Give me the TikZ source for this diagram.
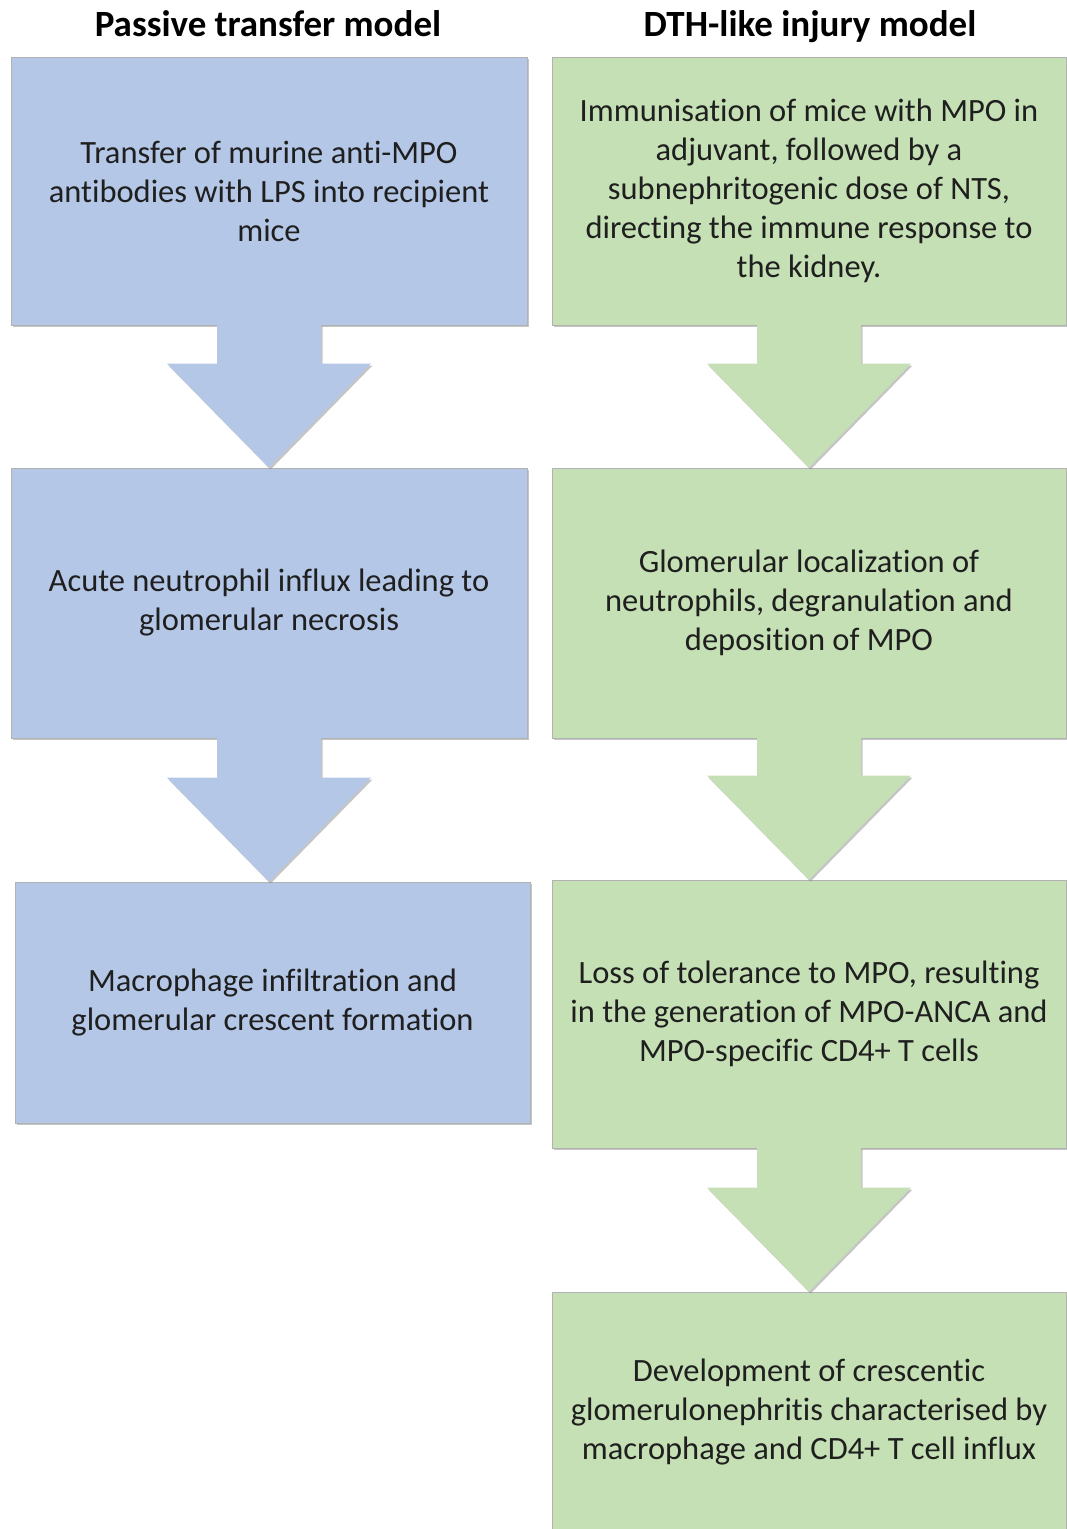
\documentclass[tikz,border=0pt]{standalone}
\usepackage{fontspec}
\setmainfont{Carlito}[Ligatures=NoCommon]
\usetikzlibrary{positioning,calc,shadows}
\definecolor{boxblue}{HTML}{B4C7E7}
\definecolor{boxgreen}{HTML}{C5E0B4}
\tikzset{
  stepbox/.style={
    rectangle, draw=black!30, line width=0.8pt,
    inner sep=0pt, align=center, text=black!88,
    font=\fontsize{32.5}{39}\selectfont,
    drop shadow={shadow xshift=1.5pt,shadow yshift=-2pt,fill=black!45,opacity=.5}
  },
  passive/.style={stepbox,fill=boxblue},
  dth/.style={stepbox,fill=boxgreen},
  heading/.style={anchor=base,font=\fontsize{37}{44}\selectfont\bfseries},
  flowarrow/.style={
    drop shadow={shadow xshift=1.5pt,shadow yshift=-2pt,fill=black!45,opacity=.5}
  }
}

\begin{document}
\begin{tikzpicture}[x=1pt,y=-1pt]
\useasboundingbox (0,0) rectangle (1066,1529);

% column headings
\node[heading] (passiveTitle) at (268,36) {Passive transfer model};
\node[heading] (dthTitle) at (810,36) {DTH-like injury model};

% passive transfer model
\node[passive, minimum width=516pt, minimum height=268pt]
at (269,191) (pA)
{Transfer of murine anti-MPO\\antibodies with LPS into recipient\\mice};
\node[passive, minimum width=516pt, minimum height=270pt]
at (269,603) (pB)
{Acute neutrophil influx leading to\\glomerular necrosis};
\node[passive, minimum width=515pt, minimum height=241pt]
at (272.5,1002.5) (pC)
{Macrophage infiltration and\\glomerular crescent formation};

% DTH-like injury model
\node[dth, minimum width=514pt, minimum height=268pt]
at (809,191) (dA)
{Immunisation of mice with MPO in\\adjuvant, followed by a\\subnephritogenic dose of NTS,\\directing the immune response to\\the kidney.};
\node[dth, minimum width=514pt, minimum height=270pt]
at (809,603) (dB)
{Glomerular localization of\\neutrophils, degranulation and\\deposition of MPO};
\node[dth, minimum width=514pt, minimum height=268pt]
at (809,1014) (dC)
{Loss of tolerance to MPO, resulting\\in the generation of MPO-ANCA and\\MPO-specific CD4+ T cells};
\node[dth, minimum width=514pt, minimum height=240pt]
at (809,1412) (dD)
{Development of crescentic\\glomerulonephritis characterised by\\macrophage and CD4+ T cell influx};

% block arrows between the steps
\begin{scope}
\foreach \a/\b/\c in {pA/pB/boxblue, pB/pC/boxblue, dA/dB/boxgreen, dB/dC/boxgreen, dC/dD/boxgreen}{
  \fill[flowarrow, fill=\c]
    ($(\a.south)+(-52,-1)$) --
    ($(\a.south |- \b.north)+(-52,-104)$) --
    ($(\a.south |- \b.north)+(-102,-104)$) --
    (\a.south |- \b.north) --
    ($(\a.south |- \b.north)+(102,-104)$) --
    ($(\a.south |- \b.north)+(52,-104)$) --
    ($(\a.south)+(52,-1)$) -- cycle;
}
\end{scope}
\end{tikzpicture}
\end{document}
